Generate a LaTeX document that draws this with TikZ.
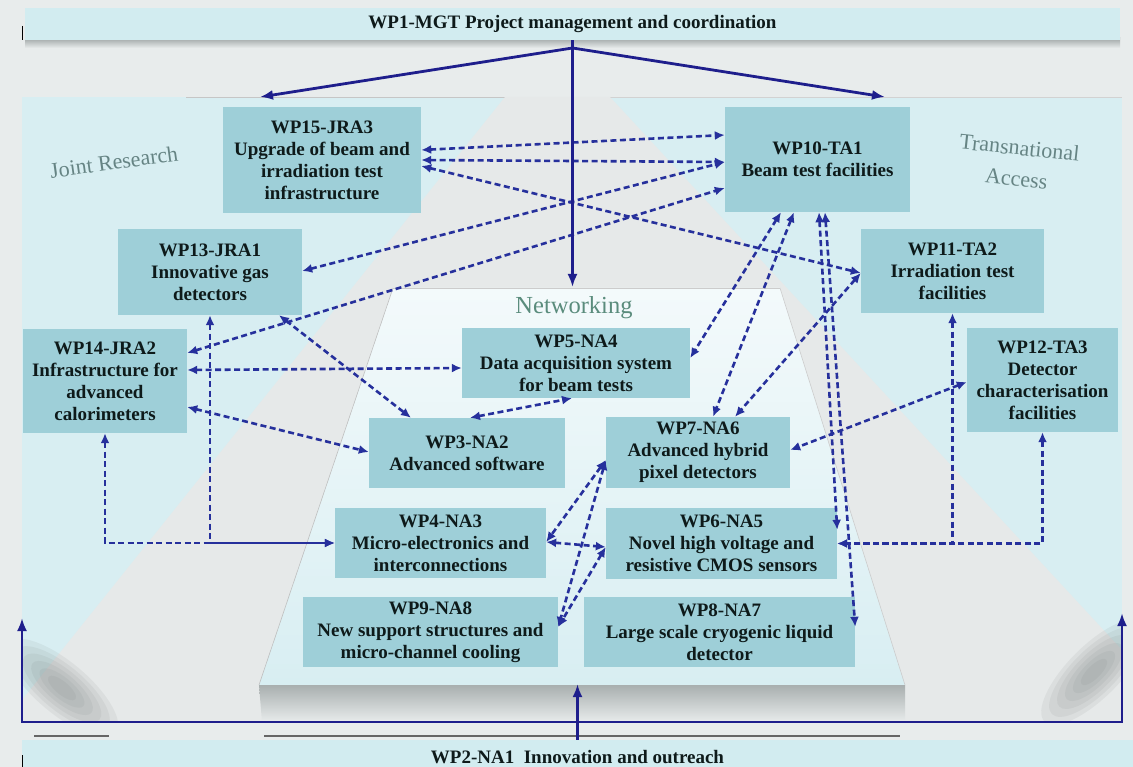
\documentclass[tikz,border=0pt]{standalone}
\usepackage{fontspec}
\setmainfont{Liberation Serif}
\usetikzlibrary{arrows.meta,calc}
\definecolor{bgc}{HTML}{E8ECEC}
\definecolor{panelc}{HTML}{D8EEF2}
\definecolor{foldc}{HTML}{E6E9E9}
\definecolor{barc}{HTML}{D2ECF0}
\definecolor{boxc}{HTML}{9ECFD8}
\definecolor{txtc}{HTML}{0E1A1A}
\definecolor{dotc}{HTML}{26309C}
\definecolor{navc}{HTML}{1E1E8C}
\definecolor{labc}{HTML}{668484}
\definecolor{netc}{HTML}{5A8C7C}
\definecolor{shadc}{HTML}{9FA6A6}
\definecolor{darkshad}{HTML}{6F7676}
\tikzset{
  wpbox/.style={fill=boxc, draw=none, inner sep=0pt, align=center,
    font=\fontsize{19}{22}\selectfont\bfseries, text=txtc},
  sz/.style 2 args={minimum width=#1pt, minimum height=#2pt},
  barbox/.style={fill=barc, draw=none, inner sep=0pt,
    font=\fontsize{19}{22}\selectfont\bfseries, text=txtc},
  dl/.style={draw=dotc, line width=2.6pt, dash pattern=on 6pt off 3.5pt,
    {Latex[length=10pt,width=9pt]}-{Latex[length=10pt,width=9pt]}},
  sl/.style={draw=navc, line width=2.8pt, -{Latex[length=13pt,width=10pt]}},
  area/.style={inner sep=0pt, font=\fontsize{22}{31}\selectfont, text=labc, align=center}
}
\begin{document}
\begin{tikzpicture}[x=1pt,y=-1pt]
\useasboundingbox (0,0) rectangle (1133,767);
% background
\fill[bgc] (0,0) rectangle (1133,767);
% top bar with shadow
\shade[top color=shadc, bottom color=bgc] (25,38) rectangle (1120,48);
\node[barbox, sz={1095}{32}] (wp1) at (572.5,24) {WP1-MGT Project management and coordination};
\draw[black, line width=0.8pt] (22,26) -- (22,40);
% main panel
\fill[panelc] (22,97) rectangle (1122,722);
\draw[gray!45, line width=0.8pt] (186,97) -- (539,97);
\draw[gray!35, line width=0.8pt] (600,97) -- (1122,97);
% grey fold
\fill[foldc] (505,97) -- (610,97) -- (1122,650) -- (1122,722) -- (22,722) -- (22,700) -- cycle;
% corner shadows (soft, layered)
\begin{scope}
\clip (22,97) rectangle (1122,722);
\foreach \s in {1.0,0.85,0.7,0.55,0.4,0.25} {
  \fill[darkshad, opacity=0.09, rotate around={-40:(62,688)}] (62,688) ellipse ({\s*70pt} and {\s*26pt});
  \fill[darkshad, opacity=0.09, rotate around={45:(1094,672)}] (1094,672) ellipse ({\s*70pt} and {\s*26pt});
}
\end{scope}
% networking plateau
\shade[top color=white!70!panelc, bottom color=panelc] (393,288) -- (780,288) -- (905,685) -- (259,685) -- cycle;
\draw[gray!40, line width=0.6pt] (393,288) -- (780,288);
\draw[gray!50, line width=0.6pt] (393,288) -- (259,685);
\draw[gray!40, line width=0.6pt] (780,288) -- (905,685);
% slab
\shade[top color=shadc!90, bottom color=bgc] (259,685) -- (905,685) -- (905,722) -- (262,722) -- cycle;
\draw[gray!80!black, line width=1.6pt] (34,736) -- (109,736);
\draw[gray!80!black, line width=1.6pt] (264,736) -- (900,736);
% bottom bar
\node[barbox, sz={1111}{35}] (wp2) at (577.5,757.5) {WP2-NA1\ \ Innovation and outreach};
\draw[black, line width=0.8pt] (22,755) -- (22,767);
% area labels
\node[area, rotate=8] (jrlab) at (114,162) {Joint Research};
\node[area, rotate=-6] (talab) at (1018,163) {Transnational\\Access};
\node[inner sep=0pt, font=\fontsize{24.5}{28}\selectfont, text=netc] (netlab) at (574,308) {Networking};
% boxes
\node[wpbox, sz={198}{106}] (wp15) at (322,160) {WP15-JRA3\\Upgrade of beam and\\irradiation test\\infrastructure};
\node[wpbox, sz={185}{105}] (wp10) at (817.5,159.5) {WP10-TA1\\Beam test facilities};
\node[wpbox, sz={184}{86}] (wp13) at (210,272) {WP13-JRA1\\Innovative gas\\detectors};
\node[wpbox, sz={183}{84}] (wp11) at (952.5,271) {WP11-TA2\\Irradiation test\\facilities};
\node[wpbox, sz={164}{104}] (wp14) at (105,381) {WP14-JRA2\\Infrastructure for\\advanced\\calorimeters};
\node[wpbox, sz={228}{70}] (wp5) at (576,363) {WP5-NA4\\Data acquisition system\\for beam tests};
\node[wpbox, sz={151}{104}] (wp12) at (1042.5,380) {WP12-TA3\\Detector\\characterisation\\facilities};
\node[wpbox, sz={196}{70}] (wp3) at (467,453) {WP3-NA2\\Advanced software};
\node[wpbox, sz={184}{71}] (wp7) at (698,452.5) {WP7-NA6\\Advanced hybrid\\pixel detectors};
\node[wpbox, sz={211}{70}] (wp4) at (440.5,543) {WP4-NA3\\Micro-electronics and\\interconnections};
\node[wpbox, sz={231}{71}] (wp6) at (721.5,543.5) {WP6-NA5\\Novel high voltage and\\resistive CMOS sensors};
\node[wpbox, sz={255}{70}] (wp9) at (430.5,632) {WP9-NA8\\New support structures and\\micro-channel cooling};
\node[wpbox, sz={271}{70}] (wp8) at (719.5,632) {WP8-NA7\\Large scale cryogenic liquid\\detector};
% dotted connectors
\draw[dl] ([yshift=10pt]wp15.east) -- ([yshift=24.5pt]wp10.west);
\draw[dl] (wp15.east) -- ([yshift=-2.5pt]wp10.west);
\draw[dl] ([yshift=-6pt]wp15.east) -- ([yshift=-2pt]wp11.west);
\draw[dl] ([yshift=1pt]wp13.east) -- ([yshift=-2.5pt]wp10.west);
\draw[dl] ([yshift=28pt]wp14.east) -- ([yshift=-28.5pt]wp10.west);
\draw[dl] ([yshift=11pt]wp14.east) -- ([yshift=-5pt]wp5.west);
\draw[dl] ([yshift=-26pt]wp14.east) -- ([yshift=1pt]wp3.west);
\draw[dl] ([xshift=69pt]wp13.south) -- ([xshift=-56pt]wp3.north);
\draw[dl] ([xshift=3pt]wp3.north) -- ([xshift=-4pt]wp5.south);
\draw[dl] (wp14.south) |- (wp4.west);
\draw[dl] (wp13.south) |- (wp4.west);
\draw[dl] (wp11.south) |- (wp6.east);
\draw[dl] (wp12.south) |- (wp6.east);
\draw[dl] ([yshift=-2pt]wp12.west) -- ([yshift=2.5pt]wp7.east);
\draw[dl] ([xshift=-36.5pt]wp10.south) -- ([yshift=5pt]wp5.east);
\draw[dl] ([xshift=-23.5pt]wp10.south) -- ([xshift=15pt]wp7.north);
\draw[dl] ([yshift=-2pt]wp11.west) -- ([xshift=37pt]wp7.north);
\draw[dl] ([xshift=1.5pt]wp10.south) -- ([yshift=-22pt]wp6.north east);
\draw[dl] ([xshift=7.5pt]wp10.south) -- ([yshift=-30pt]wp8.north east);
\draw[dl] ([yshift=-7.5pt]wp7.west) -- ([yshift=1pt]wp4.east);
\draw[dl] ([yshift=1pt]wp4.east) -- ([yshift=-3.5pt]wp6.west);
\draw[dl] ([yshift=-7.5pt]wp7.west) -- ([yshift=5pt]wp9.east);
\draw[dl] ([yshift=-3.5pt]wp6.west) -- ([yshift=5pt]wp9.east);
% solid connectors
\coordinate (apex) at (572.5,48);
\coordinate (jr) at (260,97);
\coordinate (ta) at (885,97);
\coordinate (nettop) at (572.5,287);
\coordinate (bl) at (22,618);
\coordinate (blc) at (22,722);
\coordinate (brc) at (1122,722);
\coordinate (br) at (1122,613);
\coordinate (slabtop) at (577.5,684);
\draw[sl] (apex) -- (jr);
\draw[sl] (apex) -- (ta);
\draw[sl, line width=2.4pt] (wp1.south) -- (nettop);
\draw[sl, {Latex[length=13pt,width=10pt]}-{Latex[length=13pt,width=10pt]}] (bl) -- (blc) -- (brc) -- (br);
\draw[sl] (wp2.north) -- (slabtop);
\end{tikzpicture}
\end{document}
